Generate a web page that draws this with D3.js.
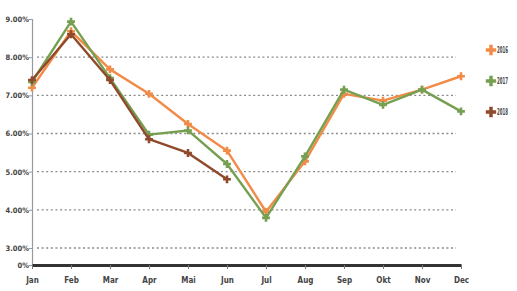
<!DOCTYPE html>
<html lang="en">
<head>
    <meta charset="UTF-8">
    <title>Monthly rates</title>
    <script src="https://cdn.jsdelivr.net/npm/d3@7"></script>
    <style>
        body { margin: 0; background: #fff; }
        text { font-family: "DejaVu Sans Condensed", "DejaVu Sans", sans-serif; fill: #333; }
    </style>
</head>
<body>
<div id="chart"></div>
<script>
    var months = ["Jan", "Feb", "Mar", "Apr", "Mai", "Jun", "Jul", "Aug", "Sep", "Okt", "Nov", "Dec"];
    var yTicks = [0, 3, 4, 5, 6, 7, 8, 9];
    var gridTicks = [3, 4, 5, 6, 7, 8];

    var values2016 = [7.2, 8.68, 7.68, 7.04, 6.25, 5.55, 3.95, 5.27, 7.04, 6.86, 7.15, 7.5];
    var values2017 = [7.35, 8.93, 7.45, 5.97, 6.08, 5.2, 3.79, 5.4, 7.15, 6.75, 7.15, 6.58];
    var values2018 = [7.4, 8.6, 7.4, 5.85, 5.49, 4.8];

    var series = [
        {name: "2016", color: "#f28a48", values: values2016},
        {name: "2017", color: "#76a051", values: values2017},
        {name: "2018", color: "#8e4a2b", values: values2018}
    ];

    var svg = d3.select("#chart").append("svg")
            .attr("width", 517)
            .attr("height", 291);

    var x = d3.scalePoint()
            .domain(months)
            .range([32, 461]);

    // broken axis: 0 sits just below 3%
    var y = d3.scaleLinear()
            .domain([0, 3, 9])
            .range([265, 248, 19]);

    // dotted grid
    svg.append("g")
            .selectAll("line")
            .data(gridTicks)
            .enter()
            .append("line")
            .attr("x1", 37)
            .attr("x2", 456)
            .attr("y1", function(d){ return y(d); })
            .attr("y2", function(d){ return y(d); })
            .attr("stroke", "#8a8a8a")
            .attr("stroke-width", 1.3)
            .attr("stroke-dasharray", "2,2.6");

    // y axis
    var yAxis = d3.axisLeft(y)
            .tickValues(yTicks)
            .tickSize(3)
            .tickFormat(function(d){ return d === 0 ? "0%" : d.toFixed(2) + "%"; });

    var yg = svg.append("g")
            .attr("transform", "translate(32,0)")
            .call(yAxis);
    yg.select(".domain").attr("stroke", "#999").attr("stroke-width", 1.2);
    yg.selectAll(".tick line").attr("stroke", "#999");
    yg.selectAll("text")
            .attr("x", -3)
            .style("font-size", "7.5px")
            .style("font-weight", "bold")
            .style("fill", "#444");

    // x axis
    var xAxis = d3.axisBottom(x).tickSize(4).tickSizeOuter(0);
    var xg = svg.append("g")
            .attr("transform", "translate(0,265)")
            .call(xAxis);
    xg.select(".domain").attr("stroke", "#333").attr("stroke-width", 3);
    xg.selectAll(".tick line").attr("stroke", "#777");
    xg.selectAll("text")
            .attr("y", 12)
            .style("font-size", "8px")
            .style("font-weight", "bold")
            .style("fill", "#444");

    var line = d3.line()
            .x(function(d, i){ return x(months[i]); })
            .y(function(d){ return y(d); });

    var cross = d3.symbol().type(d3.symbolCross).size(34);

    series.forEach(function(s){
        svg.append("path")
                .datum(s.values)
                .attr("d", line)
                .attr("fill", "none")
                .attr("stroke", s.color)
                .attr("stroke-width", 2.4)
                .attr("stroke-linejoin", "round");

        svg.append("g")
                .selectAll("path")
                .data(s.values)
                .enter()
                .append("path")
                .attr("d", cross)
                .attr("transform", function(d, i){
                    return "translate(" + x(months[i]) + "," + y(d) + ")";
                })
                .attr("fill", s.color);
    });

    // legend
    var legend = svg.append("g")
            .attr("transform", "translate(491,50)");

    legend.selectAll("path")
            .data(series)
            .enter()
            .append("path")
            .attr("d", d3.symbol().type(d3.symbolCross).size(60))
            .attr("transform", function(d, i){ return "translate(0," + i * 31 + ")"; })
            .attr("fill", function(d){ return d.color; });

    legend.selectAll("text")
            .data(series)
            .enter()
            .append("text")
            .attr("x", 6)
            .attr("y", function(d, i){ return i * 31 + 3; })
            .attr("textLength", 11)
            .attr("lengthAdjust", "spacingAndGlyphs")
            .style("font-size", "8px")
            .style("font-weight", "bold")
            .style("fill", "#444")
            .text(function(d){ return d.name; });
</script>
</body>
</html>
